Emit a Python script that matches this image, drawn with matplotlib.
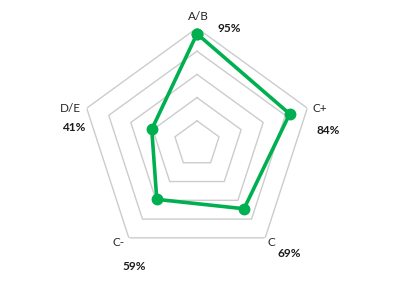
import numpy as np
import matplotlib.pyplot as plt

# données
categories = ["A/B", "C+", "C", "C-", "D/E"]
values = [0.95, 0.84, 0.69, 0.59, 0.41]
value_labels = ["95%", "84%", "69%", "59%", "41%"]
rings = [0.2, 0.4, 0.6, 0.8, 1.0]

# décalages des étiquettes (pixels)
cat_offsets = [(1, 12, "center"), (5, 0, "left"), (2, -5, "left"), (-4, -5, "right"), (-6, 0, "right")]
val_offsets = [(32, -1), (21, -22), (24, -16), (5, -29), (-13, -19)]

plt.rcParams['font.family'] = ['Lato', 'DejaVu Sans']

fig = plt.figure(figsize=(4.11, 2.89), dpi=100)
ax = fig.add_axes([81 / 411, 29 / 289, 232 / 411, 232 / 289], projection='polar')
ax.set_theta_offset(np.pi / 2)
ax.set_theta_direction(-1)

angles = np.linspace(0, 2 * np.pi, len(categories), endpoint=False)
closed = np.append(angles, angles[0])

# grille en pentagones
for r in rings:
    ax.plot(closed, [r] * len(closed), color="#cccccc", lw=1, zorder=1)

vals = values + values[:1]
ax.plot(closed, vals, color="#00b050", lw=2.6, marker="o", markersize=7.5, zorder=3)

for a, cat, (dx, dy, ha), lab, (vx, vy) in zip(angles, categories, cat_offsets, value_labels, val_offsets):
    ax.annotate(cat, (a, 1.0), xytext=(dx, dy), textcoords="offset pixels",
                ha=ha, va="center", fontsize=8.5, color="#262626", annotation_clip=False)
    ax.annotate(lab, (a, 1.0), xytext=(vx, vy), textcoords="offset pixels",
                ha="center", va="center", fontsize=8.5, fontweight="bold", color="#1a1a1a",
                annotation_clip=False)

ax.set_ylim(0, 1.0)
ax.grid(False)
ax.set_xticks([])
ax.set_yticks([])
ax.spines['polar'].set_visible(False)
ax.patch.set_alpha(0)

fig.savefig("out.png", dpi=100)
